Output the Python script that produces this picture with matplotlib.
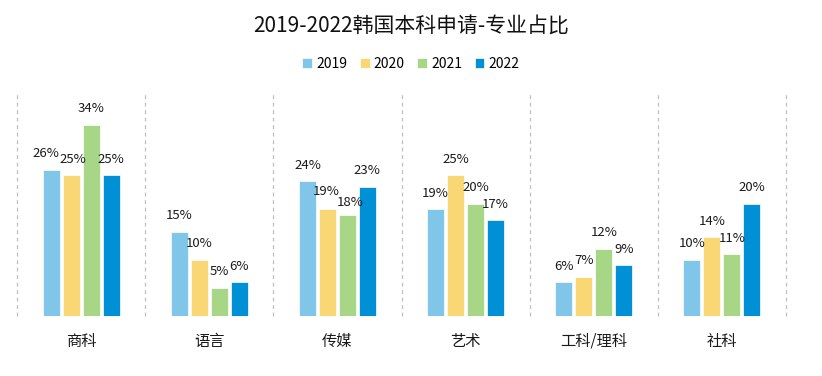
import matplotlib.pyplot as plt
import numpy as np

plt.rcParams['font.family'] = ['Noto Sans CJK SC', 'DejaVu Sans']

categories = ['商科', '语言', '传媒', '艺术', '工科/理科', '社科']
years = ['2019', '2020', '2021', '2022']
values = {
    '2019': [26, 15, 24, 19, 6, 10],
    '2020': [25, 10, 19, 25, 7, 14],
    '2021': [34, 5, 18, 20, 12, 11],
    '2022': [25, 6, 23, 17, 9, 20],
}
colors = ['#7FC6E8', '#FAD775', '#A6D686', '#0090D5']

# small nudges (points) for labels that would collide, (year index, category index)
nudge = {(0, 0): (-4, 0), (1, 0): (1, 0), (2, 2): (2, -3), (1, 2): (-1, 1)}

fig = plt.figure(figsize=(8.22, 3.76), dpi=100)
ax = fig.add_axes([17 / 822, 1 - 316 / 376, 769 / 822, 225 / 376])

x = np.arange(len(categories))
step = 0.156
width = 0.133
for i, (yr, c) in enumerate(zip(years, colors)):
    pos = x + (i - 1.5) * step
    bars = ax.bar(pos, values[yr], width, color=c, edgecolor='white', linewidth=0.5, label=yr)
    for j, (b, v) in enumerate(zip(bars, values[yr])):
        dx, dy = nudge.get((i, j), (0, 0))
        ax.annotate(f'{v}%', (b.get_x() + b.get_width() / 2, v), xytext=(dx, 11.5 + dy),
                    textcoords='offset points', ha='center', va='center',
                    fontsize=9.5, color='#1a1a1a')

# dashed separators between categories
for s in np.arange(len(categories) + 1) - 0.5:
    ax.plot([s, s], [0, 40], ls=(0, (3, 3)), color='#bfbfbf', lw=0.9, clip_on=False)

ax.set_xlim(-0.5, len(categories) - 0.5)
ax.set_ylim(0, 40)
ax.set_yticks([])
ax.set_xticks(x)
ax.set_xticklabels(categories, fontsize=11, color='#1a1a1a')
ax.tick_params(axis='x', length=0, pad=12)
for sp in ax.spines.values():
    sp.set_visible(False)

fig.text(0.5, 1 - 27 / 376, '2019-2022韩国本科申请-专业占比', ha='center', va='center',
         fontsize=15, color='#111111')
fig.legend(loc='center', bbox_to_anchor=(0.5, 1 - 64 / 376), ncol=4, frameon=False,
           fontsize=10, handlelength=0.7, handleheight=0.7, handletextpad=0.3,
           columnspacing=0.9)

fig.savefig('out.png', dpi=100)
